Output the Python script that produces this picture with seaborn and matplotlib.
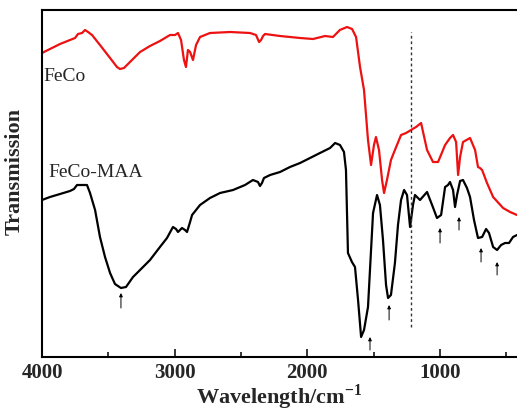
import numpy as np
import matplotlib
matplotlib.use("Agg")
import matplotlib.pyplot as plt
import seaborn as sns

# FeCo (red) spectrum: wavenumber (cm-1) and transmission (arb. units)
feco_wn = [4000, 3940, 3864, 3789, 3751, 3729, 3698, 3676, 3653, 3623, 3563, 3487, 3435, 3412,
           3382, 3337, 3261, 3186, 3111, 3035, 2997, 2975, 2952, 2930, 2915, 2900, 2884, 2862,
           2839, 2809, 2734, 2583, 2432, 2387, 2364, 2349, 2334, 2319, 2206, 2055, 1957, 1867,
           1807, 1755, 1701, 1663, 1633, 1603, 1573, 1543, 1520, 1498, 1483, 1460, 1437, 1422,
           1400, 1370, 1340, 1294, 1256, 1219, 1181, 1143, 1098, 1053, 1015, 962, 925, 902,
           879, 864, 849, 827, 774, 736, 714, 699, 683, 646, 600, 525, 472, 420]
feco_t = [304, 308, 313, 317, 319, 323, 324, 327, 325, 322, 312, 299, 290, 288,
          289, 295, 305, 311, 316, 322, 322, 324, 317, 297, 290, 307, 305, 297,
          312, 320, 324, 325, 324, 322, 315, 317, 321, 323, 321, 319, 318, 321,
          320, 327, 330, 328, 320, 290, 267, 217, 192, 212, 220, 207, 177, 164,
          177, 197, 207, 222, 224, 227, 230, 234, 207, 195, 195, 212, 219, 222,
          215, 182, 200, 215, 219, 207, 190, 189, 187, 174, 160, 149, 145, 142]

# FeCo-MAA (black) spectrum
maa_wn = [4000, 3940, 3864, 3789, 3759, 3736, 3698, 3661, 3638, 3600, 3563, 3525, 3487, 3450,
          3405, 3367, 3314, 3261, 3186, 3111, 3058, 3013, 2990, 2975, 2945, 2922, 2907, 2884,
          2869, 2809, 2734, 2658, 2560, 2470, 2410, 2372, 2357, 2342, 2327, 2281, 2206, 2131,
          2055, 1980, 1905, 1829, 1791, 1754, 1724, 1709, 1694, 1664, 1641, 1618, 1595, 1573,
          1543, 1520, 1505, 1475, 1453, 1430, 1407, 1392, 1370, 1340, 1317, 1294, 1271, 1249,
          1226, 1204, 1189, 1151, 1098, 1060, 1023, 992, 962, 940, 925, 902, 887, 872,
          849, 827, 797, 774, 744, 714, 683, 653, 631, 600, 570, 540, 510, 480, 450, 420]
maa_t = [157, 160, 163, 166, 168, 172, 172, 172, 164, 147, 120, 100, 84, 73,
         69, 70, 80, 87, 97, 110, 119, 130, 128, 125, 129, 127, 125, 135,
         142, 152, 159, 164, 167, 172, 177, 175, 171, 174, 179, 182, 185, 190,
         194, 199, 204, 209, 214, 212, 205, 187, 104, 95, 90, 57, 20, 27,
         50, 107, 144, 162, 152, 117, 72, 59, 62, 94, 132, 157, 167, 162,
         130, 152, 162, 157, 165, 152, 139, 142, 170, 172, 175, 167, 150, 162,
         176, 177, 169, 160, 137, 119, 120, 128, 124, 110, 107, 112, 114, 114, 120, 122]

# marked bands (wavenumber, arrow tail, arrow head)
arrow_wn = [3405, 1528, 1384, 1000, 857, 691, 570]
arrow_tail = [49, 7, 37, 114, 127, 95, 82]
arrow_head = [64, 20, 52, 129, 140, 109, 95]

sns.set_theme(style="ticks")
plt.rcParams['font.family'] = ['Liberation Serif', 'DejaVu Serif']
plt.rcParams['mathtext.fontset'] = 'custom'
plt.rcParams['mathtext.rm'] = 'Liberation Serif:bold'
plt.rcParams['mathtext.bf'] = 'Liberation Serif:bold'

fig = plt.figure(figsize=(5.17, 4.12), dpi=100)
ax = fig.add_axes([42 / 517, 55 / 412, 475 / 517, 347 / 412])

sns.lineplot(x=feco_wn, y=feco_t, color="#ee1111", lw=1.6, ax=ax, sort=False)
sns.lineplot(x=maa_wn, y=maa_t, color="black", lw=1.6, ax=ax, sort=False)

ax.vlines(1220, 30, 325, colors="#333333", linestyles=(0, (2, 2)), lw=1.0)

for wn, t0, t1 in zip(arrow_wn, arrow_tail, arrow_head):
    ax.annotate("", xy=(wn, t1), xytext=(wn, t0),
                arrowprops=dict(arrowstyle="-|>", color="black", lw=0.7,
                                mutation_scale=5, shrinkA=0, shrinkB=0))

ax.text(3993, 281, "FeCo", fontsize=14, va="center", ha="left")
ax.text(3955, 185, "FeCo-MAA", fontsize=14, va="center", ha="left")

ax.set_xlim(4000, 420)
ax.set_ylim(0, 347)
ax.set_xticks([4000, 3000, 2000, 1000])
ax.set_xticks([3500, 2500, 1500, 500], minor=True)
ax.set_yticks([])
ax.tick_params(axis="x", which="major", direction="in", length=6, width=1.3,
               labelsize=15, pad=4, top=False)
ax.tick_params(axis="x", which="minor", direction="in", length=3.5, width=1.3, top=False)
for lbl in ax.get_xticklabels():
    lbl.set_fontweight("bold")

ax.set_xlabel(r"Wavelength/cm$^{\mathbf{-1}}$", fontsize=16, fontweight="bold", labelpad=0)
ax.set_ylabel("Transmission", fontsize=16, fontweight="bold")
ax.yaxis.set_label_coords(-0.036, 0.535)

for side in ["left", "bottom", "top"]:
    ax.spines[side].set_linewidth(1.5)
    ax.spines[side].set_color("black")
ax.spines["right"].set_visible(False)

fig.savefig("out.png", dpi=100)
